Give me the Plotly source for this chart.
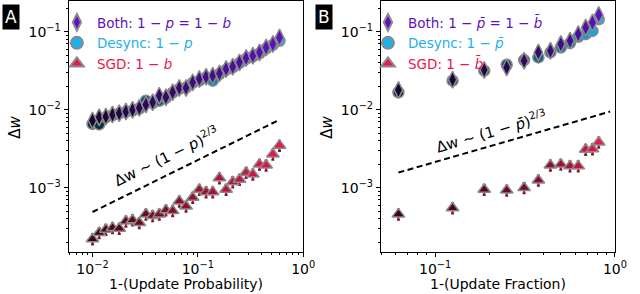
import plotly.graph_objects as go

# ---------------- data ----------------
A_x = [0.0100, 0.01157, 0.0134, 0.01549, 0.01794, 0.02075, 0.02399, 0.0278, 0.03214, 0.03724,
       0.04305, 0.04977, 0.05768, 0.06668, 0.07727, 0.08933, 0.1033, 0.1197, 0.1384, 0.1603,
       0.1854, 0.2143, 0.2483, 0.2871, 0.3327, 0.3846, 0.4446, 0.5152, 0.5957]
A_both = [0.0073, 0.00805, 0.0082, 0.0087, 0.00905, 0.0095, 0.0100, 0.0106, 0.0117, 0.0125,
          0.0152, 0.0145, 0.0168, 0.0191, 0.0191, 0.0225, 0.0249, 0.0266, 0.0274, 0.0293,
          0.0334, 0.0357, 0.0406, 0.0462, 0.0494, 0.0545, 0.063, 0.0697, 0.0845]
A_desync = [0.0066, 0.0065, 0.0080, 0.0085, 0.0090, 0.0094, 0.0098, 0.0104, 0.0131, 0.0122,
            0.0131, 0.0143, 0.0166, 0.0186, 0.0193, 0.0222, 0.0237, 0.0260, 0.0237, 0.0288,
            0.0325, 0.0350, 0.0398, 0.0450, 0.0485, 0.0530, 0.0610, 0.0680, 0.0767]
A_sgd = [2.21e-4, 2.66e-4, 2.93e-4, 3.08e-4, 3.02e-4, 3.74e-4, 3.86e-4, 3.56e-4, 4.6e-4, 4.38e-4,
         4.6e-4, 5.18e-4, 5.07e-4, 6.75e-4, 5.82e-4, 7.52e-4, 9.5e-4, 8.87e-4, 8.87e-4, 1.34e-3,
         9.5e-4, 1.19e-3, 1.28e-3, 1.57e-3, 1.49e-3, 2.0e-3, 1.95e-3, 2.69e-3, 3.5e-3]

B_x = [0.0625, 0.125, 0.1875, 0.25, 0.3125, 0.375, 0.4375, 0.5, 0.5625, 0.625, 0.6875, 0.75, 0.8125]
B_both = [0.0180, 0.0244, 0.0325, 0.0350, 0.0426, 0.0545, 0.0571, 0.0697, 0.0767, 0.0935, 0.1135, 0.1315, 0.165]
B_desync = [0.0168, 0.0237, 0.0318, 0.0379, 0.0435, 0.047, 0.0545, 0.063, 0.0718, 0.0863, 0.0935, 0.103, 0.145]
B_sgd = [4.6e-4, 5.5e-4, 9.5e-4, 9.3e-4, 1.0e-3, 1.25e-3, 1.95e-3, 2.0e-3, 1.9e-3, 1.9e-3, 3.1e-3, 3.15e-3, 3.85e-3]

A_fit_x = [0.01, 0.6]
A_fit_y = [4.9e-4, 7.5e-3]
B_fit_x = [0.0625, 0.94]
B_fit_y = [1.57e-3, 9.5e-3]

y_tickvals = [1e-3, 1e-2, 1e-1]
y_ticktext = ["10<sup>\u22123</sup>", "10<sup>\u22122</sup>", "10<sup>\u22121</sup>"]
x_tickvals = [1e-2, 1e-1, 1e0]
x_ticktext = ["10<sup>\u22122</sup>", "10<sup>\u22121</sup>", "10<sup>0</sup>"]

# ---------------- styling ----------------
W, H = 640, 294
MT = 1
FONT = "DejaVu Sans"
C_BOTH = (92, 18, 190)
C_DES = (28, 176, 236)
C_SGD = (236, 22, 72)
EDGE = "#8a8a8a"


def px(x):
    return x / W


def py(y):
    return (H - y) / (H - MT)


def grad(rgb, n, lo=0.25):
    out = []
    for i in range(n):
        t = lo + (1 - lo) * (i / (n - 1))
        out.append("rgb(%d,%d,%d)" % tuple(int(round(c * t)) for c in rgb))
    return out


def hexrgb(rgb):
    return "rgb(%d,%d,%d)" % rgb


fig = go.Figure()


def add_panel(xs, both, des, sgd, fx, fy, xa, ya):
    n = len(xs)
    fig.add_trace(go.Scatter(x=xs, y=des, mode="markers", xaxis=xa, yaxis=ya, showlegend=False,
                             marker=dict(symbol="circle", size=11, color=grad(C_DES, n),
                                         line=dict(color=EDGE, width=1.5))))
    fig.add_trace(go.Scatter(x=xs, y=both, mode="markers", xaxis=xa, yaxis=ya, showlegend=False,
                             marker=dict(symbol="diamond-tall", size=12, color=grad(C_BOTH, n),
                                         line=dict(color=EDGE, width=1.5))))
    fig.add_trace(go.Scatter(x=xs, y=sgd, mode="markers", xaxis=xa, yaxis=ya, showlegend=False,
                             error_y=dict(type="percent", value=15, color="#8c1030", thickness=2, width=1.5),
                             marker=dict(symbol="triangle-up", size=11, color=grad(C_SGD, n),
                                         line=dict(color=EDGE, width=1.5))))
    fig.add_trace(go.Scatter(x=fx, y=fy, mode="lines", xaxis=xa, yaxis=ya, showlegend=False,
                             line=dict(color="black", width=2, dash="6px,3.5px")))


add_panel(A_x, A_both, A_desync, A_sgd, A_fit_x, A_fit_y, "x", "y")
add_panel(B_x, B_both, B_desync, B_sgd, B_fit_x, B_fit_y, "x2", "y2")

legA = [("diamond-tall", C_BOTH, "Both: 1 \u2212 <i>p</i> = 1 \u2212 <i>b</i>"),
        ("circle", C_DES, "Desync: 1 \u2212 <i>p</i>"),
        ("triangle-up", C_SGD, "SGD: 1 \u2212 <i>b</i>")]
legB = [("diamond-tall", C_BOTH, "Both: 1 \u2212 <i>p\u0304</i> = 1 \u2212 <i>b\u0304</i>"),
        ("circle", C_DES, "Desync: 1 \u2212 <i>p\u0304</i>"),
        ("triangle-up", C_SGD, "SGD: 1 \u2212 <i>b\u0304</i>")]
for leg, items, xa, ya in [("legend", legA, "x", "y"), ("legend2", legB, "x2", "y2")]:
    for sym, col, name in items:
        fig.add_trace(go.Scatter(x=[None], y=[None], mode="markers", xaxis=xa, yaxis=ya, legend=leg,
                                 name="<span style='color:%s'>%s</span>" % (hexrgb(col), name),
                                 marker=dict(symbol=sym, size=12, color=hexrgb(col),
                                             line=dict(color=EDGE, width=1.5))))

y_minor = [k * 10.0 ** e for e in (-4, -3, -2, -1) for k in range(2, 10)]
x_minor = [k * 10.0 ** e for e in (-3, -2, -1) for k in range(2, 10)]

axis_common = dict(type="log", showline=True, linecolor="black", linewidth=1.2, mirror=True,
                   ticks="outside", ticklen=4, tickwidth=1, tickcolor="black", showgrid=False,
                   zeroline=False, tickfont=dict(family=FONT, size=14, color="black"),
                   minor=dict(ticks="outside", ticklen=2, tickwidth=1, tickcolor="black",
                              tickmode="array", showgrid=False))

ydom = [py(251.7), 1.0]
fig.update_layout(
    width=W, height=H, margin=dict(l=0, r=0, t=MT, b=0),
    paper_bgcolor="white", plot_bgcolor="white",
    font=dict(family=FONT, size=14, color="black"),
    xaxis=dict(axis_common, domain=[px(70), px(309)], range=[-2.226, 0], anchor="y",
               tickmode="array", tickvals=x_tickvals, ticktext=x_ticktext,
               minor=dict(axis_common["minor"], tickvals=x_minor)),
    yaxis=dict(axis_common, domain=ydom, range=[-3.819, -0.604], anchor="x",
               tickmode="array", tickvals=y_tickvals, ticktext=y_ticktext,
               minor=dict(axis_common["minor"], tickvals=y_minor)),
    xaxis2=dict(axis_common, domain=[px(388.3), px(626.7)], range=[-1.301, 0], anchor="y2",
                tickmode="array", tickvals=x_tickvals, ticktext=x_ticktext,
                minor=dict(axis_common["minor"], tickvals=x_minor)),
    yaxis2=dict(axis_common, domain=ydom, range=[-3.819, -0.604], anchor="x2",
                tickmode="array", tickvals=y_tickvals, ticktext=y_ticktext,
                minor=dict(axis_common["minor"], tickvals=y_minor)),
    legend=dict(x=px(58), y=py(7), xanchor="left", yanchor="top", bgcolor="rgba(0,0,0,0)",
                borderwidth=0, font=dict(family=FONT, size=13.5), tracegroupgap=0, itemsizing="constant"),
    legend2=dict(x=px(375), y=py(7), xanchor="left", yanchor="top", bgcolor="rgba(0,0,0,0)",
                 borderwidth=0, font=dict(family=FONT, size=13.5), tracegroupgap=0, itemsizing="constant"),
)

ann = []
# panel letters
for lab, cx, cy in [("A", 11, 17.5), ("B", 330.5, 16.5)]:
    ann.append(dict(text=lab, x=px(cx), y=py(cy), xref="paper", yref="paper", showarrow=False,
                    font=dict(family=FONT, size=17, color="white"), bgcolor="black", borderpad=2,
                    xanchor="center", yanchor="middle"))
# y titles
for cx in (15, 333):
    ann.append(dict(text="\u0394<i>w</i>", x=px(cx), y=py(127), xref="paper", yref="paper",
                    showarrow=False, textangle=-90, font=dict(family=FONT, size=15),
                    xanchor="center", yanchor="middle"))
# x titles
ann.append(dict(text="1-(Update Probability)", x=px(189.5), y=py(284), xref="paper", yref="paper",
                showarrow=False, font=dict(family=FONT, size=14), xanchor="center", yanchor="middle"))
ann.append(dict(text="1-(Update Fraction)", x=px(507.5), y=py(284), xref="paper", yref="paper",
                showarrow=False, font=dict(family=FONT, size=14), xanchor="center", yanchor="middle"))
# scaling labels
ann.append(dict(text="\u0394w ~ (1 \u2212 <i>p</i>)<sup>2/3</sup>", x=px(169), y=py(156),
                xref="paper", yref="paper", showarrow=False, textangle=-26,
                font=dict(family=FONT, size=15), xanchor="center", yanchor="middle"))
ann.append(dict(text="\u0394w ~ (1 \u2212 <i>p\u0304</i>)<sup>2/3</sup>", x=px(500), y=py(131),
                xref="paper", yref="paper", showarrow=False, textangle=-16,
                font=dict(family=FONT, size=15), xanchor="center", yanchor="middle"))
fig.update_layout(annotations=ann)

fig.write_html("out.html", config={"displayModeBar": False},
               post_script="document.body.style.margin='0';document.body.style.padding='0';")
